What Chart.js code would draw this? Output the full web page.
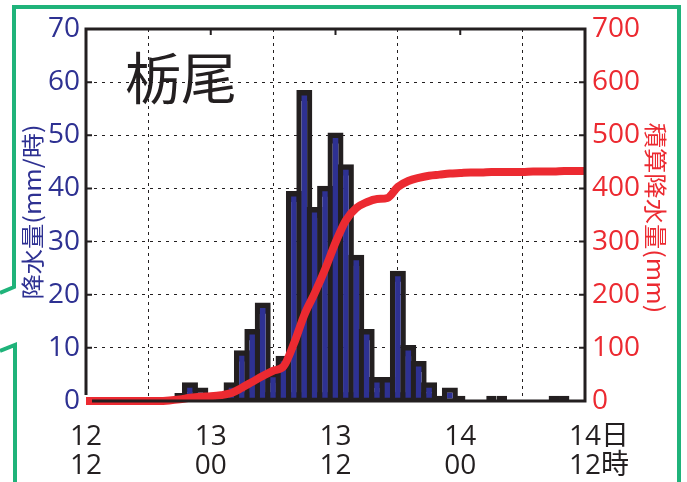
<!DOCTYPE html>
<html>
<head>
<meta charset="utf-8">
<script src="https://cdn.jsdelivr.net/npm/chart.js@4.4.1/dist/chart.umd.min.js"></script>
<style>
body { margin: 0; background: #fff; }
canvas { display: block; }
</style>
</head>
<body>
<canvas id="rainChart" width="687" height="482"></canvas>
<script>
// hours since 12日12時
var hours = [0,1,2,3,4,5,6,7,8,9,10,11,12,13,14,15,16,17,18,19,20,21,22,23,24,
             25,26,27,28,29,30,31,32,33,34,35,36,37,38,39,40,41,42,43,44,45,46,47,48];
// 降水量 (mm/時)
var hourlyRain = [0,0,0,0,0,0,0,0,0,1.5,3,2,1,1,3,9,13,18,5,8,39,58,36,40,50,
                  44,27,13,4,4,24,10,7,3,1,2,1,0,0,1,1,0,0,0,0,1,1,0,0];
// 積算降水量 (mm)
var totalRain = [0,0,0,0,0,0,0,0,1,3,6,8,9,11,15,25,36,47,57,65,108,162,203,248,298,
                 340,363,374,380,382,403,414,420,424,426,428,429,430,430,431,431,431,431,432,432,432,433,433,433];
var xTickHours = [0, 12, 24, 36, 48];
var xTickTop = ['12', '13', '13', '14', '14日'];
var xTickBottom = ['12', '00', '12', '00', '12時'];

var inkBlack = '#231f20';
var rainBlue = '#2e3192';
var sumRed = '#ec2a31';
var frameGreen = '#1fb37a';

var decorations = {
	id: 'decorations',
	beforeDatasetsDraw: function(chart) {
		var c = chart.ctx;
		var a = chart.chartArea;
		var sx = chart.scales.x, sy = chart.scales.y;
		c.save();
		c.strokeStyle = inkBlack;
		c.lineWidth = 2;
		c.beginPath();
		for (var v = 10; v < 70; v += 10) {
			var py = sy.getPixelForValue(v);
			c.moveTo(a.left, py); c.lineTo(a.left + 6, py);
			c.moveTo(a.right, py); c.lineTo(a.right - 6, py);
		}
		for (var i = 1; i < xTickHours.length - 1; i++) {
			var px = sx.getPixelForValue(xTickHours[i]);
			c.moveTo(px, a.top); c.lineTo(px, a.top + 6);
		}
		c.stroke();
		c.restore();
	},
	afterDatasetsDraw: function(chart) {
		var c = chart.ctx;
		var a = chart.chartArea;
		c.save();
		c.strokeStyle = inkBlack;
		c.lineWidth = 3;
		c.beginPath();
		c.moveTo(a.left, a.bottom - 6);
		c.lineTo(a.left, a.top);
		c.lineTo(a.right, a.top);
		c.lineTo(a.right, a.bottom);
		c.lineTo(a.left + 6, a.bottom);
		c.stroke();
		c.restore();
	},
	afterDraw: function(chart) {
		var c = chart.ctx;
		var sx = chart.scales.x;
		c.save();
		// x labels, digits centred on the tick
		c.fillStyle = inkBlack;
		c.font = "28px 'Open Sans', 'Noto Sans CJK JP'";
		c.textAlign = 'left';
		c.textBaseline = 'middle';
		for (var i = 0; i < xTickHours.length; i++) {
			var px = sx.getPixelForValue(xTickHours[i]);
			var w1 = c.measureText(xTickTop[i].slice(0, 2)).width;
			var w2 = c.measureText(xTickBottom[i].slice(0, 2)).width;
			c.fillText(xTickTop[i], px - w1 / 2, 437);
			c.fillText(xTickBottom[i], px - w2 / 2, 466);
		}
		// place name
		c.font = "56px 'Noto Sans CJK JP'";
		c.fillText('栃尾', 125, 78);
		// axis titles
		c.font = "23px 'Noto Sans CJK JP'";
		c.textAlign = 'center';
		c.fillStyle = rainBlue;
		c.save();
		c.translate(32, 212);
		c.rotate(-Math.PI / 2);
		c.scale(1.1, 1);
		c.fillText('降水量(mm/時)', 0, 0);
		c.restore();
		c.fillStyle = sumRed;
		c.save();
		c.translate(656, 218);
		c.rotate(Math.PI / 2);
		c.scale(1.1, 1);
		c.fillText('積算降水量(mm)', 0, 0);
		c.restore();
		// green balloon frame
		c.strokeStyle = frameGreen;
		c.lineWidth = 4;
		c.beginPath();
		c.moveTo(0, 293);
		c.lineTo(14, 287);
		c.lineTo(14, 7);
		c.lineTo(679, 7);
		c.lineTo(679, 482);
		c.stroke();
		c.beginPath();
		c.moveTo(0, 351);
		c.lineTo(15, 345);
		c.lineTo(15, 482);
		c.stroke();
		c.restore();
	}
};

var ctx = document.getElementById('rainChart').getContext('2d');
var rainChart = new Chart(ctx, {
	data: {
		datasets: [{
			type: 'line',
			label: '積算降水量',
			data: hours.map(function(h, i) { return {x: h, y: totalRain[i]}; }),
			yAxisID: 'y2',
			borderColor: sumRed,
			borderWidth: 8,
			pointRadius: 0,
			cubicInterpolationMode: 'monotone',
			clip: 6,
			order: 0
		}, {
			type: 'bar',
			label: '降水量',
			data: hours.map(function(h, i) { return {x: h, y: hourlyRain[i]}; }),
			yAxisID: 'y',
			backgroundColor: rainBlue,
			borderColor: inkBlack,
			borderWidth: 5.5,
			borderSkipped: false,
			// edge lines straddle the bar outline, as in the original plot
			inflateAmount: function(context) {
				var v = context.raw ? context.raw.y : 0;
				return v >= 2 ? 2.8 : 0;
			},
			barPercentage: 1,
			categoryPercentage: 1,
			order: 1
		}]
	},
	options: {
		responsive: false,
		animation: false,
		layout: { padding: { top: 29, left: 0, right: 0, bottom: 0 } },
		plugins: { legend: { display: false }, tooltip: { enabled: false } },
		scales: {
			x: {
				type: 'linear',
				min: 0,
				max: 48,
				offset: false,
				ticks: { stepSize: 12, display: false },
				grid: { color: inkBlack, lineWidth: 1, drawTicks: false },
				border: { display: false, dash: [3, 4] },
				afterFit: function(s) { s.height = 81; }
			},
			y: {
				position: 'left',
				min: 0,
				max: 70,
				ticks: { stepSize: 10, color: rainBlue, padding: 6,
					font: { family: "'Open Sans'", size: 28 } },
				grid: { color: inkBlack, lineWidth: 1, drawTicks: false },
				border: { display: false, dash: [3, 5] },
				afterFit: function(s) { s.width = 86; }
			},
			y2: {
				position: 'right',
				min: 0,
				max: 700,
				ticks: { stepSize: 100, color: sumRed, padding: 7,
					font: { family: "'Open Sans'", size: 28 } },
				grid: { display: false, drawTicks: false },
				border: { display: false },
				afterFit: function(s) { s.width = 102; }
			}
		}
	},
	plugins: [decorations]
});
</script>
</body>
</html>
